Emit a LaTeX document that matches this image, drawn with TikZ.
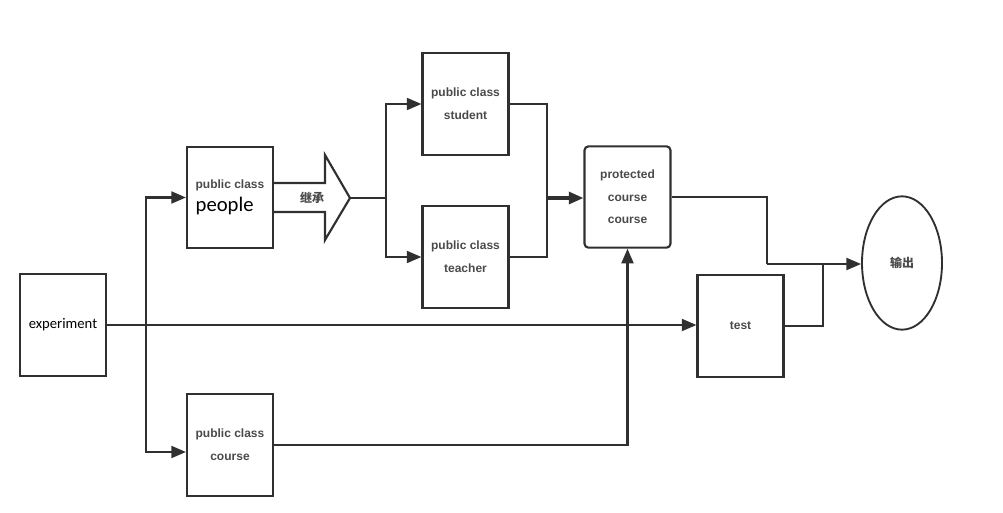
\documentclass[tikz,border=0pt]{standalone}
\usepackage{fontspec}
\setmainfont{Liberation Sans}
\newfontfamily\cali{Carlito}
\newfontfamily\cjk{Noto Sans CJK SC}
\usetikzlibrary{arrows.meta,shapes.geometric}
\definecolor{linegray}{HTML}{303030}
\definecolor{textgray}{HTML}{4a4a4a}
\tikzset{
  cls/.style={draw=linegray, line width=1.6pt, minimum width=64.5pt, minimum height=76pt, inner sep=0pt, align=center, text=textgray, font=\bfseries\fontsize{9}{17}\selectfont},
  arr/.style={-{Triangle[length=11pt,width=9pt]}},
  link/.style={draw=linegray, line width=1.6pt},
}
\begin{document}
\begin{tikzpicture}[x=0.75pt,y=-0.75pt]
\useasboundingbox (0,0) rectangle (1003,513);
\node[cls, font=\cali\fontsize{11}{13}\selectfont, text=black] (exp) at (63,325) {experiment};
\node[cls] (people) at (230,197.5) {public class\\{\cali\mdseries\color{black}\fontsize{15.5}{15.5}\selectfont people\hspace*{8pt}}};
\node[cls] (student) at (465.5,104) {public class\\student};
\node[cls] (teacher) at (465.5,257) {public class\\teacher};
\node[cls, rounded corners=3pt] (prot) at (627.5,197) {protected\\course\\course};
\node[cls] (test) at (740.5,326) {test};
\node[cls] (course) at (230,445) {public class\\course};
\node[draw=linegray, line width=1.4pt, ellipse, minimum width=60pt, minimum height=100pt, font=\cjk\bfseries\fontsize{9}{9}\selectfont, text=textgray] (out) at (902,263) {输出};
\draw[link, line join=miter] ([yshift=10.875pt]people.east) -- (325,183) -- (325,155) -- (350,198) coordinate (tip) -- (325,240) -- (325,212) -- ([yshift=-10.875pt]people.east);
\node[font=\cjk\bfseries\fontsize{9}{9}\selectfont, text=textgray] (inh) at (312,198) {继承};
\coordinate (fork) at (146,325);
\coordinate (branch) at (386,198);
\coordinate (join) at (547,198);
\coordinate (merge) at (767,264);
\coordinate (tap) at (823,264);
\draw[link,arr] (exp.east) -- (exp.east -| test.west);
\draw[link,arr] (fork) |- (people.west);
\draw[link,arr] (fork) |- ([yshift=-5.25pt]course.west);
\draw[link] (tip) -- (branch);
\draw[link,arr] (branch) |- (student.west);
\draw[link,arr] (branch) |- (teacher.west);
\draw[link] (student.east) -| (join);
\draw[link] (teacher.east) -| (join);
\draw[link,line width=2.4pt,arr] (join) -- (join -| prot.west);
\draw[link] (prot.east) -| (merge);
\draw[link,arr] (merge) -- (merge -| out.west);
\draw[link] (test.east) -| (tap);
\draw[link,arr] (course.east) -| (prot.south);
\end{tikzpicture}
\end{document}
